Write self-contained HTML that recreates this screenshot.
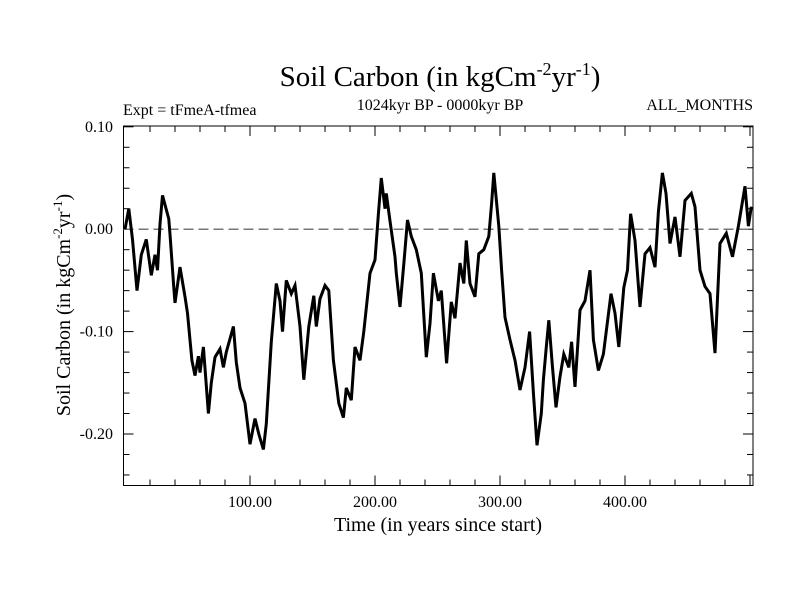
<!DOCTYPE html>
<html><head><meta charset="utf-8"><style>
body{margin:0;background:#fff}
svg{display:block;font-family:"Liberation Serif",serif}
</style></head><body>
<svg id="chart" width="800" height="600" viewBox="0 0 800 600" xmlns="http://www.w3.org/2000/svg">
<rect width="800" height="600" fill="#fff"/>
<text x="440" y="86" font-size="29" text-anchor="middle">Soil Carbon (in kgCm<tspan font-size="18" dy="-11">-2</tspan><tspan dy="11">yr</tspan><tspan font-size="18" dy="-11">-1</tspan><tspan dy="11">)</tspan></text>
<text x="123" y="115" font-size="16">Expt = tFmeA-tfmea</text>
<text x="440" y="110" font-size="16" text-anchor="middle">1024kyr BP - 0000kyr BP</text>
<text x="753" y="110" font-size="16" text-anchor="end">ALL_MONTHS</text>
<text x="438" y="531" font-size="20" text-anchor="middle">Time (in years since start)</text>
<text transform="translate(70,305) rotate(-90)" font-size="20" text-anchor="middle">Soil Carbon (in kgCm<tspan font-size="13" dy="-8">-2</tspan><tspan dy="8">yr</tspan><tspan font-size="13" dy="-8">-1</tspan><tspan dy="8">)</tspan></text>
<g id="axes"></g>
<g id="plot"></g>
</svg>
<script>
const times=[0,3,6,9.6,13,17,21,24,26,28,30,35,36,39,40,44,48,50,53.5,56,58.7,60,62.7,66.7,69,72,76,78.7,81,86.7,89,92,96,100,104,107,110.7,113,117,121,124,126,129,133,136,140,143,147,151,153,156,160,163,166.7,171,174.7,177,181,184,188,191,196,200,202.7,205,208,209,212,216,217,220,223,226,229,233,237,241,244,246.7,250.7,253,257.3,261,264,268,271,273,276,280,283,287,291,293.3,295,299,301.3,304,308,312,316,320,323.7,326.7,329.6,333,334.7,337,339,342,344.8,348,351,355,357.3,360,364,368,372,374.7,378.7,382.7,388.8,392,395,399,402,404.5,408,412,416,420,424,426.7,429.9,432.8,436,440,444,448,453,456,460,464,468,472,476,481,486,490.7,496,498.7,501];
const values=[0.00,0.02,-0.01,-0.06,-0.025,-0.01,-0.045,-0.025,-0.04,0.005,0.033,0.01,-0.005,-0.057,-0.072,-0.037,-0.066,-0.082,-0.128,-0.143,-0.124,-0.14,-0.115,-0.18,-0.15,-0.125,-0.117,-0.135,-0.12,-0.095,-0.13,-0.155,-0.17,-0.21,-0.185,-0.2,-0.215,-0.19,-0.11,-0.053,-0.07,-0.1,-0.05,-0.063,-0.055,-0.095,-0.147,-0.095,-0.065,-0.095,-0.068,-0.055,-0.06,-0.128,-0.17,-0.184,-0.155,-0.167,-0.115,-0.128,-0.1,-0.043,-0.03,0.015,0.05,0.02,0.035,0.008,-0.027,-0.043,-0.076,-0.034,0.009,-0.007,-0.02,-0.043,-0.125,-0.092,-0.043,-0.07,-0.06,-0.131,-0.071,-0.087,-0.033,-0.053,-0.011,-0.053,-0.066,-0.024,-0.02,-0.007,0.025,0.055,0.003,-0.04,-0.086,-0.108,-0.128,-0.157,-0.135,-0.1,-0.16,-0.211,-0.18,-0.147,-0.115,-0.089,-0.135,-0.174,-0.144,-0.122,-0.135,-0.11,-0.154,-0.079,-0.07,-0.04,-0.108,-0.138,-0.122,-0.063,-0.082,-0.115,-0.057,-0.04,0.015,-0.011,-0.076,-0.024,-0.018,-0.037,0.017,0.055,0.035,-0.014,0.012,-0.027,0.028,0.035,0.022,-0.04,-0.056,-0.063,-0.121,-0.014,-0.004,-0.027,0.003,0.042,0.003,0.022];
const yTicks=[0.10,0.00,-0.10,-0.20];
const yTickLabels=["0.10","0.00","-0.10","-0.20"];
const xTicks=[100,200,300,400];
const xTickLabels=["100.00","200.00","300.00","400.00"];

const L=123.5,R=753,T=126,B=485.5;
const xs=t=>125+t*1.25;
const ys=v=>229.2-v*1024;
const NS="http://www.w3.org/2000/svg";
function mk(tag,attrs,parent){const e=document.createElementNS(NS,tag);for(const k in attrs)e.setAttribute(k,attrs[k]);parent.appendChild(e);return e;}
const axes=document.getElementById('axes'),plot=document.getElementById('plot');

const frame=mk('rect',{x:L,y:T,width:R-L,height:B-T,fill:'none',stroke:'#000','stroke-width':1},axes);



for(let i=-12;i<=5;i++){
  const v=i*0.02,y=ys(v);
  const major=(i%5===0);const len=major?10:6;
  const t1=mk('line',{x1:L,x2:L+len,y1:y,y2:y,stroke:'#000'},axes);
  
  
  const t2=mk('line',{x1:R,x2:R-len,y1:y,y2:y,stroke:'#000'},axes);
  
  
}
yTicks.forEach((v,i)=>{
  const tx=mk('text',{x:113,y:ys(v)+5,'font-size':16,'text-anchor':'end'},axes);
  tx.textContent=yTickLabels[i];
  
  
});
for(let t=20;t<=500;t+=20){
  const x=xs(t);if(x>R)break;
  const major=(t%100===0);const len=major?10:6;
  const a=mk('line',{x1:x,x2:x,y1:B,y2:B-len,stroke:'#000'},axes);
  
  
  const b=mk('line',{x1:x,x2:x,y1:T,y2:T+len,stroke:'#000'},axes);
  
  
}
xTicks.forEach((t,i)=>{
  const tx=mk('text',{x:xs(t),y:507,'font-size':16,'text-anchor':'middle'},axes);
  tx.textContent=xTickLabels[i];
  
  
});
const zl=mk('line',{x1:L,x2:R,y1:ys(0),y2:ys(0),stroke:'#777','stroke-width':1.5,'stroke-dasharray':'10,5'},plot);


const d=times.map((t,i)=>(i?'L':'M')+Math.min(R,Math.max(L,xs(t))).toFixed(1)+','+ys(values[i]).toFixed(1)).join('');
const p=mk('path',{d:d,fill:'none',stroke:'#000','stroke-width':3,'stroke-linejoin':'miter'},plot);


</script>
</body></html>
